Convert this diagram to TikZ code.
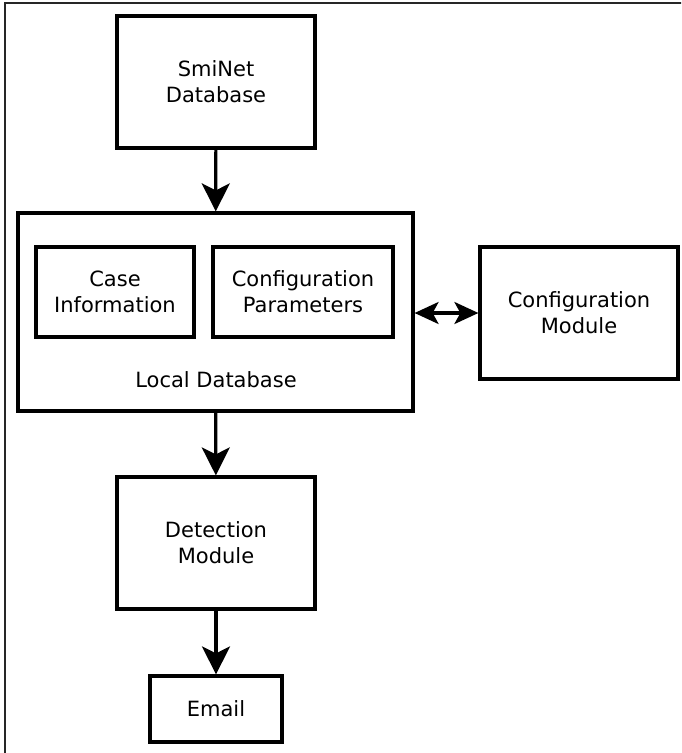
\documentclass[tikz,border=0pt]{standalone}
\usepackage{fontspec}
\setmainfont{DejaVu Sans}
\usetikzlibrary{arrows.meta}

\tikzset{
  block/.style={draw,line width=3.2pt,align=center,inner sep=0pt,
    font=\fontsize{21pt}{26pt}\selectfont},
  flow/.style={line width=3.2pt,-{Stealth[length=28pt,width=28pt,inset=7pt]}},
  bothflow/.style={line width=3.2pt,{Stealth[length=24pt,width=22pt,inset=6pt]}-{Stealth[length=24pt,width=22pt,inset=6pt]}}
}

\begin{document}
\begin{tikzpicture}[x=1pt,y=-1pt]
    \useasboundingbox (0,0) rectangle (681,753);
    \begin{scope}
    \clip (0,0) rectangle (681,753);
    \draw[line width=1.6pt,black!85] (5,3) rectangle (700,770);
    \end{scope}

    % top source
    \node[block,minimum width=198pt,minimum height=132pt] (sminet) at (216,82) {SmiNet\\Database};

    % local database with its two tables
    \node[block,minimum width=395pt,minimum height=198pt] (localdb) at (215.5,312) {};
    \node[block,minimum width=158pt,minimum height=90pt] (caseinfo) at (115,292) {Case\\Information};
    \node[block,minimum width=180pt,minimum height=90pt] (confparam) at (303,292) {Configuration\\Parameters};
    \node[font=\fontsize{21pt}{26pt}\selectfont] (locallabel) at (216,380) {Local Database};

    \node[block,minimum width=198pt,minimum height=132pt] (confmod) at (579,313) {Configuration\\Module};
    \node[block,minimum width=198pt,minimum height=132pt] (detect) at (216,543) {Detection\\Module};
    \node[block,minimum width=132pt,minimum height=66pt] (email) at (216,709) {Email};

    \draw[flow] (sminet) -- (localdb);
    \draw[bothflow] (localdb.east |- confmod) -- (confmod);
    \draw[flow] (localdb) -- (detect);
    \draw[flow] (detect) -- (email);
\end{tikzpicture}
\end{document}
